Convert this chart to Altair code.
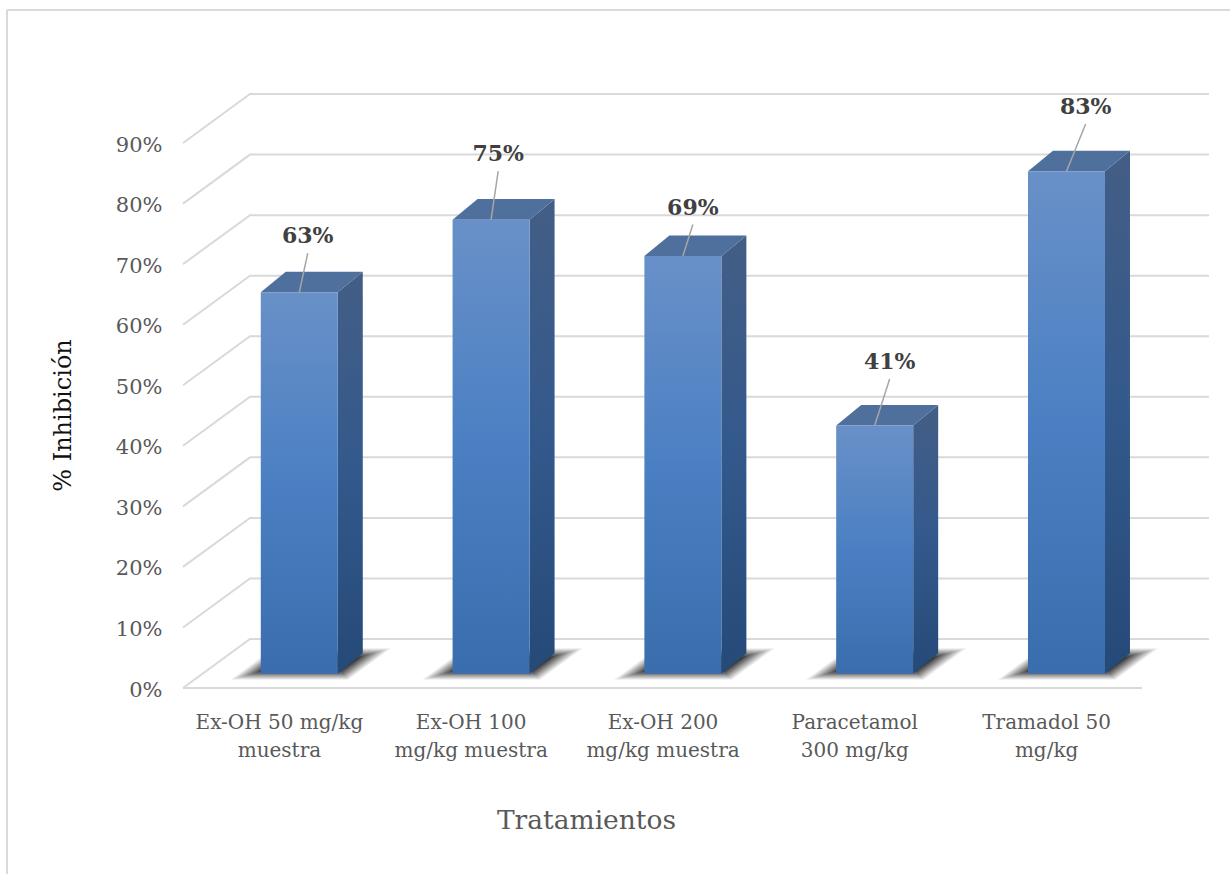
import altair as alt
import pandas as pd

# Treatments and their percentage of inhibition
categories = [
    ["Ex-OH 50 mg/kg", "muestra"],
    ["Ex-OH 100", "mg/kg muestra"],
    ["Ex-OH 200", "mg/kg muestra"],
    ["Paracetamol", "300 mg/kg"],
    ["Tramadol 50", "mg/kg"],
]
values = [63, 75, 69, 41, 83]
grid_levels = [0, 10, 20, 30, 40, 50, 60, 70, 80, 90]

# Oblique projection of the 3-D box, in data units
PX_X = 191.8           # pixels per category
PX_Y = 6.055           # pixels per percentage point
DEPTH_X = 67 / PX_X    # horizontal shift of the back wall
DEPTH_Y = 49 / PX_Y    # vertical shift of the back wall
BAR_W = 77 / PX_X
FRONT = (0.29, 0.29)   # bar front face: (x depth, y depth)
BACK = (0.663, 0.71)   # bar back face: (x depth, y depth)

# Hand-placed data labels: sideways shift and rise of each leader end
label_shift = [0.044, 0.037, 0.052, 0.078, 0.10]
label_rise = [6.45, 8.0, 5.2, 7.7, 7.8]

SERIF = "DejaVu Serif"
GRID = "#d9d9d9"
TEXT = "#595959"

x_scale = alt.Scale(domain=[-176 / PX_X, 1047 / PX_X], nice=False, zero=False)
y_scale = alt.Scale(domain=[-186 / PX_Y, 678 / PX_Y], nice=False, zero=False)


def project(u, pct, depth):
    return u + depth[0] * DEPTH_X, pct + depth[1] * DEPTH_Y


def floor_or_roof(key, left, right, pct, d0, d1):
    """Parallelogram lying flat at height pct, as area rows (x, y, y2)."""
    x0, y0 = project(left, pct, d0)
    x1, y1 = project(left, pct, d1)
    x2, _ = project(right, pct, d0)
    x3, _ = project(right, pct, d1)
    return [
        dict(key=key, x=x0, y=y0, y2=y0),
        dict(key=key, x=x1, y=y0, y2=y1),
        dict(key=key, x=x2, y=y0, y2=y1),
        dict(key=key, x=x3, y=y1, y2=y1),
    ]


front_rows, side_rows, top_rows, leader_rows, label_rows = [], [], [], [], []
SHADOW_STEPS = 12
SHADOW_PEAK = 0.88
shadow_steps = [[] for _ in range(SHADOW_STEPS)]

for i, v in enumerate(values):
    left = i + 0.505 - BAR_W / 2
    right = left + BAR_W
    fx0, fy0 = project(left, 0, FRONT)
    fx1, fy1 = project(right, v, FRONT)
    front_rows.append(dict(key=i, x=fx0, x2=fx1, y=fy0, y2=fy1))

    bx, by0 = project(right, 0, BACK)
    _, by1 = project(right, v, BACK)
    side_rows += [
        dict(key=i, x=fx1, y=fy0, y2=fy1),
        dict(key=i, x=bx, y=by0, y2=by1),
    ]
    top_rows += floor_or_roof(i, left, right, v, FRONT, BACK)

    # Soft contact shadow: nested translucent footprints
    for s, rows in enumerate(shadow_steps):
        ix = s * 0.009
        dep = s * 0.016
        rows += floor_or_roof(
            i, left - 0.115 + ix, right + 0.095 - ix, 0,
            (0.17 + dep, 0.17 + dep), (0.81 - dep, 0.81 - dep),
        )

    cx = (fx0 + fx1) / 2
    ex = cx + label_shift[i]
    ey = fy1 + label_rise[i]
    leader_rows.append(dict(x=cx, y=fy1, x2=ex, y2=ey))
    label_rows.append(dict(x=ex, y=ey + 2.8, text=f"{v}%"))

grid_rows = []
for level in grid_levels:
    for u, d in [(0, (0, 0)), (0, (1, 1)), (5, (1, 1))]:
        gx, gy = project(u, level, d)
        grid_rows.append(dict(level=level, x=gx, y=gy))
for u in (0, 5):
    gx, gy = project(u, 0, (0, 0))
    grid_rows.append(dict(level=-1, x=gx, y=gy))

label_lines = [list(c) for c in categories]
label_expr = f"{label_lines}[floor(datum.value)]"

x_axis = alt.Axis(
    values=[i + 0.5 for i in range(len(categories))],
    labelExpr=label_expr,
    labelFont=SERIF, labelFontSize=20, labelColor=TEXT, labelLineHeight=28,
    labelOverlap=False, labelBound=False, labelFlush=False, labelPadding=0,
    domain=False, ticks=False, grid=False, offset=-162,
    title="Tratamientos", titleFont=SERIF, titleFontSize=26.5,
    titleFontWeight="normal", titleColor=TEXT, titleX=579, titleY=95,
)
y_axis = alt.Axis(
    values=grid_levels, labelExpr="datum.value + '%'",
    labelFont=SERIF, labelFontSize=21, labelColor=TEXT, labelPadding=0,
    labelOffset=2, labelOverlap=False, labelBound=False, labelFlush=False,
    domain=False, ticks=False, grid=False, offset=-155,
    title="% Inhibición", titleFont=SERIF, titleFontSize=24,
    titleFontWeight="normal", titleColor="#111111", titleAngle=270,
    titleX=-87, titleY=405,
)

X = alt.X("x:Q", scale=x_scale, axis=x_axis)
Y = alt.Y("y:Q", scale=y_scale, axis=y_axis)

grid = alt.Chart(pd.DataFrame(grid_rows)).mark_line(
    color=GRID, strokeWidth=2
).encode(x=X, y=Y, detail="level:N")

# Each layer raises the accumulated darkness by the same amount
shadows = []
reached = 0.0
for s, rows in enumerate(shadow_steps):
    wanted = SHADOW_PEAK * (s + 1) / SHADOW_STEPS
    alpha = 1 - (1 - wanted) / (1 - reached)
    reached = wanted
    shadows.append(
        alt.Chart(pd.DataFrame(rows)).mark_area(color="#1c1c1c", opacity=alpha).encode(
            x=X, y=Y, y2="y2:Q", detail="key:N"
        )
    )

front_fill = alt.Gradient(
    gradient="linear", x1=0, y1=0, x2=0, y2=1,
    stops=[
        alt.GradientStop(offset=0, color="#6990c8"),
        alt.GradientStop(offset=0.5, color="#4a80c3"),
        alt.GradientStop(offset=1, color="#396dad"),
    ],
)
side_fill = alt.Gradient(
    gradient="linear", x1=0, y1=0, x2=0, y2=1,
    stops=[
        alt.GradientStop(offset=0, color="#435e86"),
        alt.GradientStop(offset=0.5, color="#33598c"),
        alt.GradientStop(offset=1, color="#254a78"),
    ],
)

fronts = alt.Chart(pd.DataFrame(front_rows)).mark_bar(fill=front_fill).encode(
    x=X, x2="x2:Q", y=Y, y2="y2:Q"
)
sides = alt.Chart(pd.DataFrame(side_rows)).mark_area(fill=side_fill).encode(
    x=X, y=Y, y2="y2:Q", detail="key:N"
)
tops = alt.Chart(pd.DataFrame(top_rows)).mark_area(color="#4f6f9c", opacity=1).encode(
    x=X, y=Y, y2="y2:Q", detail="key:N"
)
leaders = alt.Chart(pd.DataFrame(leader_rows)).mark_rule(color="#a6a6a6", strokeWidth=1.5).encode(
    x=X, x2="x2:Q", y=Y, y2="y2:Q"
)
labels = alt.Chart(pd.DataFrame(label_rows)).mark_text(
    font=SERIF, fontSize=22, fontWeight="bold", color="#404040", align="center", baseline="middle"
).encode(x=X, y=Y, text="text:N")

# Outer frame: only the top and left edges are drawn
frame_top = alt.Chart().mark_rule(color=GRID, strokeWidth=2).encode(
    x=alt.value(0), x2=alt.value(1223), y=alt.value(0)
)
frame_left = alt.Chart().mark_rule(color=GRID, strokeWidth=2).encode(
    x=alt.value(0), y=alt.value(0), y2=alt.value(864)
)

chart = alt.layer(
    grid, *shadows, sides, tops, fronts, leaders, labels, frame_top, frame_left
).properties(
    width=1223, height=864,
    padding={"left": 7, "top": 10, "right": 0, "bottom": 0},
    autosize=alt.AutoSizeParams(type="none"),
    background="white",
).configure_view(stroke=None)

chart.save("out.html", embed_options={"renderer": "svg", "actions": False})
